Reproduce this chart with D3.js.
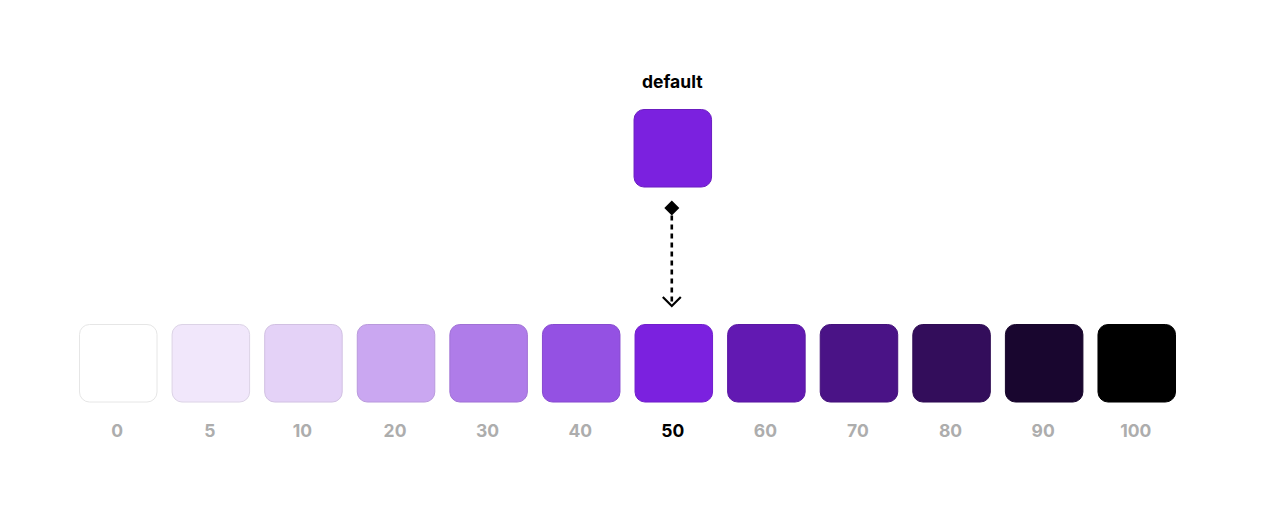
<!DOCTYPE html>
<html>
<head>
<meta charset="utf-8">
<script src="https://cdn.jsdelivr.net/npm/d3@7"></script>
<style>
  html, body { margin: 0; padding: 0; background: #ffffff; }
  svg { display: block; font-family: Inter, "Noto Sans", sans-serif; }
</style>
</head>
<body>
<svg id="chart" width="1280" height="513"></svg>
<script>
// Data
const categories = ["0", "5", "10", "20", "30", "40", "50", "60", "70", "80", "90", "100"];
const swatchColors = ["#ffffff", "#f1e7fb", "#e4d2f7", "#caa7f1", "#af7ce9", "#9451e3", "#7b21df", "#6219b2", "#4a1386", "#330d5b", "#19062f", "#000000"];
const defaultCategory = "50";
const defaultLabel = "default";

const svg = d3.select("#chart");

const x = d3.scaleBand()
  .domain(categories)
  .range([79, 1176])
  .paddingInner(0.152)
  .paddingOuter(0);

const size = x.bandwidth();
const rowTop = 324;
const radius = 10;

const colorOf = d3.scaleOrdinal().domain(categories).range(swatchColors);

// Swatches row
svg.append("g")
  .selectAll("rect")
  .data(categories)
  .join("rect")
  .attr("x", d => x(d) + 0.5)
  .attr("y", rowTop + 0.5)
  .attr("width", size - 1)
  .attr("height", size - 1)
  .attr("rx", radius)
  .attr("ry", radius)
  .attr("fill", d => colorOf(d))
  .attr("stroke", (d, i) => i === 0 ? "#e6e6e6" : d3.color(colorOf(d)).darker(0.25))
  .attr("stroke-width", 1);

// Labels
svg.append("g")
  .selectAll("text")
  .data(categories)
  .join("text")
  .attr("x", d => x(d) + size / 2 - 1)
  .attr("y", 437)
  .attr("text-anchor", "middle")
  .attr("font-size", 17.5)
  .attr("font-weight", 700)
  .attr("fill", d => d === defaultCategory ? "#000000" : "#adadad")
  .text(d => d);

// Default swatch
const dx = x(defaultCategory) - 1;
const cx = dx + size / 2 - 1;
const topY = 109;

svg.append("rect")
  .attr("x", dx + 0.5)
  .attr("y", topY + 0.5)
  .attr("width", size - 1)
  .attr("height", size - 1)
  .attr("rx", radius)
  .attr("ry", radius)
  .attr("fill", colorOf(defaultCategory))
  .attr("stroke", d3.color(colorOf(defaultCategory)).darker(0.4))
  .attr("stroke-width", 1);

svg.append("text")
  .attr("x", dx + size / 2 - 0.5)
  .attr("y", 88)
  .attr("text-anchor", "middle")
  .attr("font-size", 17.5)
  .attr("font-weight", 700)
  .attr("fill", "#000000")
  .text(defaultLabel);

// Arrow connector
const dY = 208, dR = 7.5;
svg.append("path")
  .attr("d", `M${cx},${dY - dR} L${cx + dR},${dY} L${cx},${dY + dR} L${cx - dR},${dY} Z`)
  .attr("fill", "#000");

svg.append("line")
  .attr("x1", cx).attr("x2", cx)
  .attr("y1", dY + dR)
  .attr("y2", 304)
  .attr("stroke", "#000")
  .attr("stroke-width", 2.6)
  .attr("stroke-dasharray", "5,4");

svg.append("path")
  .attr("d", `M${cx - 9},${297} L${cx},${306} L${cx + 9},${297}`)
  .attr("fill", "none")
  .attr("stroke", "#000")
  .attr("stroke-width", 2.2);
</script>
</body>
</html>
